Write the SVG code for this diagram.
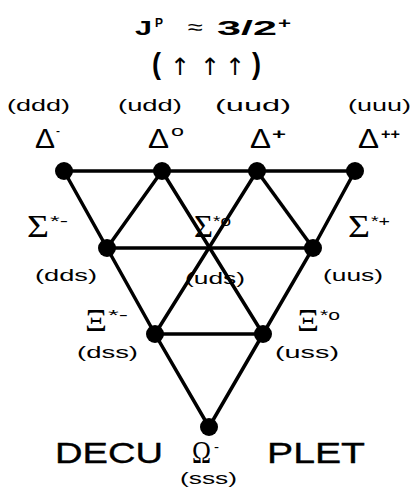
<svg xmlns="http://www.w3.org/2000/svg" width="413" height="489" viewBox="0 0 413 489">
<style>
text{font-family:"Liberation Sans","DejaVu Sans",sans-serif;fill:#000}
.q{font-size:16.5px}
.d{font-size:28px}
.gs{font-family:"Liberation Serif","DejaVu Serif",serif;font-size:31px}
.s{font-size:15px}
.t{font-size:21px;font-weight:bold}
.ar{font-family:"DejaVu Sans",sans-serif;font-size:24px}
.big{font-size:29px;stroke:#000;stroke-width:0.35}
.dot{fill:#000}
.e{stroke:#000;stroke-width:3.5;stroke-linecap:round;fill:none}
</style>
<rect width="413" height="489" fill="#fff"/>
<g id="title">
<text class="t" x="135" y="35" textLength="17" lengthAdjust="spacingAndGlyphs">J</text>
<text class="t" x="155" y="27" style="font-size:12px" textLength="8" lengthAdjust="spacingAndGlyphs">P</text>
<text x="188" y="34" style="font-size:20px" textLength="15" lengthAdjust="spacingAndGlyphs">≈</text>
<text class="t" x="217" y="35" textLength="60" lengthAdjust="spacingAndGlyphs">3/2</text>
<text class="t" x="278" y="28" style="font-size:15px" textLength="13" lengthAdjust="spacingAndGlyphs">+</text>
<text x="152" y="74" style="font-size:30px;font-weight:bold" textLength="9" lengthAdjust="spacingAndGlyphs">(</text>
<text class="ar" x="180" y="75" text-anchor="middle">↑</text>
<text class="ar" x="210" y="75" text-anchor="middle">↑</text>
<text class="ar" x="235" y="75" text-anchor="middle">↑</text>
<text x="252" y="74" style="font-size:30px;font-weight:bold" textLength="9" lengthAdjust="spacingAndGlyphs">)</text>
</g>
<g id="connectors">
<line class="e" x1="64" y1="171" x2="355" y2="171"/>
<line class="e" x1="107" y1="248" x2="313" y2="248"/>
<line class="e" x1="155" y1="334" x2="263" y2="334"/>
<polyline class="e" points="64,171 107,248 155,334 209,427"/>
<polyline class="e" points="355,171 313,248 263,334 209,427"/>
<line class="e" x1="162" y1="171" x2="107" y2="248"/>
<line class="e" x1="162" y1="171" x2="263" y2="334"/>
<line class="e" x1="257" y1="171" x2="155" y2="334"/>
<line class="e" x1="257" y1="171" x2="313" y2="248"/>
</g>
<g id="delta-minus">
<circle class="dot" cx="64" cy="171" r="9"/>
<text class="q" x="7" y="111" textLength="63" lengthAdjust="spacingAndGlyphs">(ddd)</text>
<text class="d" x="35" y="148" textLength="20" lengthAdjust="spacingAndGlyphs">Δ</text>
<text class="s" x="56" y="136" textLength="4" lengthAdjust="spacingAndGlyphs">-</text>
</g>
<g id="delta-zero">
<circle class="dot" cx="162" cy="171" r="9"/>
<text class="q" x="118" y="111" textLength="64" lengthAdjust="spacingAndGlyphs">(udd)</text>
<text class="d" x="148" y="148" textLength="21" lengthAdjust="spacingAndGlyphs">Δ</text>
<text class="s" x="171" y="136" textLength="13" lengthAdjust="spacingAndGlyphs">o</text>
</g>
<g id="delta-plus">
<circle class="dot" cx="257" cy="171" r="9"/>
<text class="q" x="215" y="111" textLength="76" lengthAdjust="spacingAndGlyphs">(uud)</text>
<text class="d" x="250" y="148" textLength="21" lengthAdjust="spacingAndGlyphs">Δ</text>
<text class="s" x="272" y="139" style="font-weight:bold" textLength="14" lengthAdjust="spacingAndGlyphs">+</text>
</g>
<g id="delta-plusplus">
<circle class="dot" cx="355" cy="171" r="9"/>
<text class="q" x="348" y="111" textLength="63" lengthAdjust="spacingAndGlyphs">(uuu)</text>
<text class="d" x="358" y="148" textLength="21" lengthAdjust="spacingAndGlyphs">Δ</text>
<text class="s" x="381" y="139" style="font-weight:bold" textLength="19" lengthAdjust="spacingAndGlyphs">++</text>
</g>
<g id="sigma-minus">
<circle class="dot" cx="107" cy="248" r="9"/>
<text class="gs" x="27" y="237" textLength="22" lengthAdjust="spacingAndGlyphs">Σ</text>
<text class="s" x="50" y="226" textLength="18" lengthAdjust="spacingAndGlyphs">*-</text>
<text class="q" x="35" y="281" textLength="62" lengthAdjust="spacingAndGlyphs">(dds)</text>
</g>
<g id="sigma-zero">
<text class="gs" x="194" y="237" textLength="19" lengthAdjust="spacingAndGlyphs">Σ</text>
<text class="s" x="213" y="226" textLength="18" lengthAdjust="spacingAndGlyphs">*o</text>
<text class="q" x="185" y="284" textLength="60" lengthAdjust="spacingAndGlyphs">(uds)</text>
</g>
<g id="sigma-plus">
<circle class="dot" cx="313" cy="248" r="9"/>
<text class="gs" x="348" y="237" textLength="22" lengthAdjust="spacingAndGlyphs">Σ</text>
<text class="s" x="371" y="226" textLength="19" lengthAdjust="spacingAndGlyphs">*+</text>
<text class="q" x="323" y="281" textLength="60" lengthAdjust="spacingAndGlyphs">(uus)</text>
</g>
<g id="xi-minus">
<circle class="dot" cx="155" cy="334" r="9"/>
<text class="gs" x="85" y="331" textLength="22" lengthAdjust="spacingAndGlyphs">Ξ</text>
<text class="s" x="108" y="320" textLength="20" lengthAdjust="spacingAndGlyphs">*-</text>
<text class="q" x="77" y="358" textLength="61" lengthAdjust="spacingAndGlyphs">(dss)</text>
</g>
<g id="xi-zero">
<circle class="dot" cx="263" cy="334" r="9"/>
<text class="gs" x="297" y="331" textLength="22" lengthAdjust="spacingAndGlyphs">Ξ</text>
<text class="s" x="320" y="320" textLength="20" lengthAdjust="spacingAndGlyphs">*o</text>
<text class="q" x="275" y="358" textLength="64" lengthAdjust="spacingAndGlyphs">(uss)</text>
</g>
<g id="omega-minus">
<circle class="dot" cx="209" cy="427" r="9"/>
<text class="gs" x="192" y="463" textLength="19" lengthAdjust="spacingAndGlyphs">Ω</text>
<text class="s" x="214" y="452" textLength="5" lengthAdjust="spacingAndGlyphs">-</text>
<text class="q" x="180" y="484" textLength="57" lengthAdjust="spacingAndGlyphs">(sss)</text>
</g>
<g id="caption">
<text class="big" x="55" y="463" textLength="108" lengthAdjust="spacingAndGlyphs">DECU</text>
<text class="big" x="267" y="463" textLength="98" lengthAdjust="spacingAndGlyphs">PLET</text>
</g>
</svg>
